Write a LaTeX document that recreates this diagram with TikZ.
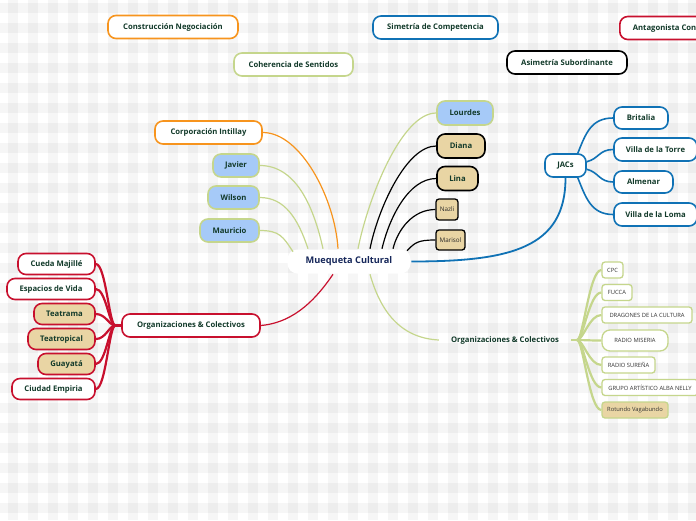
\documentclass[tikz,border=0pt]{standalone}
\usepackage{fontspec}
\setmainfont{Open Sans}
\usetikzlibrary{calc}

\definecolor{corange}{RGB}{247,148,29}
\definecolor{cgreen}{RGB}{197,214,140}
\definecolor{cblue}{RGB}{16,114,181}
\definecolor{cred}{RGB}{200,16,46}
\definecolor{fblue}{RGB}{166,202,248}
\definecolor{ftan}{RGB}{233,213,164}
\definecolor{txt}{RGB}{18,58,42}
\definecolor{navy}{RGB}{22,39,90}

\tikzset{
    topic/.style={draw, rounded corners=8pt, line width=1.6pt, fill=white, text=txt,
        font=\bfseries\fontsize{7.7}{9}\selectfont, minimum height=23pt, inner sep=0pt},
    person/.style={topic, draw=cgreen, fill=fblue},
    member/.style={topic, draw=black, fill=ftan},
    smallbox/.style={draw=black, line width=1.3pt, rounded corners=3pt, fill=ftan, text=black!85,
        font=\fontsize{6.3}{7}\selectfont, minimum height=21pt, inner sep=0pt},
    orgbox/.style={draw=cgreen, line width=1.3pt, rounded corners=3pt, fill=white, text=black!80,
        font=\fontsize{5.8}{7}\selectfont, minimum height=16pt, inner sep=0pt},
    wire/.style={line width=1.2pt},
    fan/.style={line width=2.2pt},
}

\begin{document}
\begin{tikzpicture}[x=1pt, y=-1pt]
        \useasboundingbox (0,0) rectangle (696,520);
        \clip (0,0) rectangle (696,520);
        \fill[white] (0,0) rectangle (696,520);
        \foreach \i in {0,...,34}
            \fill[black, opacity=.035] ({8+20*\i},0) rectangle ++(10,520);
        \foreach \j in {0,...,25}
            \fill[black, opacity=.035] (0,{3+20*\j}) rectangle ++(696,10);

        \node (cn) [topic, draw=corange, minimum width=130pt] at (173,27) {Construcción Negociación};
        \node (cs) [topic, draw=cgreen, minimum width=119pt] at (293.5,64.5) {Coherencia de Sentidos};
        \node (sc) [topic, draw=cblue, minimum width=125pt] at (435.5,27.5) {Simetría de Competencia};
        \node (as) [topic, draw=black, minimum width=120pt] at (567,62.5) {Asimetría Subordinante};
        \node (ac) [topic, draw=cred, anchor=west, inner xsep=13pt] at (619,28) {Antagonista Confrontación};

        \node (mc) [topic, draw=none, text=navy, rounded corners=10pt, minimum width=123pt, minimum height=24pt,
            font=\bfseries\fontsize{9.2}{10}\selectfont] at (349,261.5) {Muequeta Cultural};

        \node (ci) [topic, draw=corange, minimum width=107pt] at (208.5,132.5) {Corporación Intillay};
        \node (jv) [person, minimum width=46pt] at (236,165.5) {Javier};
        \node (wi) [person, minimum width=51pt] at (233.5,197.5) {Wilson};
        \node (mu) [person, minimum width=59pt] at (229.5,230.5) {Mauricio};

        \node (ol) [topic, draw=cred, minimum width=138pt] at (191,325.5) {Organizaciones \& Colectivos};
        \node (cu) [topic, draw=cred, minimum width=77pt, minimum height=21pt] at (56.5,264) {Cueda Majillé};
        \node (ev) [topic, draw=cred, minimum width=88pt, minimum height=21pt] at (51,289) {Espacios de Vida};
        \node (tr) [topic, draw=cred, fill=ftan, minimum width=61pt, minimum height=21pt] at (64.5,314) {Teatrama};
        \node (tp) [topic, draw=cred, fill=ftan, minimum width=67pt, minimum height=21pt] at (61.5,339) {Teatropical};
        \node (gu) [topic, draw=cred, fill=ftan, minimum width=57pt, minimum height=21pt] at (66.5,364) {Guayatá};
        \node (ce) [topic, draw=cred, minimum width=83pt, minimum height=21pt] at (53.5,389) {Ciudad Empiria};

        \node (lo) [person, minimum width=56pt, minimum height=24pt] at (465,113) {Lourdes};
        \node (di) [member, minimum width=48pt, minimum height=24pt] at (461,146) {Diana};
        \node (li) [member, minimum width=41pt, minimum height=24pt] at (457.5,178.5) {Lina};
        \node (na) [smallbox, minimum width=22pt] at (447,209.5) {Nazli};
        \node (mr) [smallbox, minimum width=29pt, minimum height=20pt] at (450.5,240) {Marisol};

        \node (jc) [topic, draw=cblue, minimum width=41pt] at (565.5,165.5) {JACs};
        \node (br) [topic, draw=cblue, minimum width=54pt, minimum height=22pt] at (641,118) {Britalia};
        \node (vt) [topic, draw=cblue, minimum width=83pt] at (655.5,149.5) {Villa de la Torre};
        \node (al) [topic, draw=cblue, minimum width=59pt, minimum height=22pt] at (643.5,182) {Almenar};
        \node (vl) [topic, draw=cblue, minimum width=83pt] at (655.5,214.5) {Villa de la Loma};

        \node (or) [text=txt, font=\bfseries\fontsize{7.7}{9}\selectfont, inner xsep=12pt, inner ysep=0pt]
            at (505,340) {Organizaciones \& Colectivos};
        \node (cp) [orgbox, minimum width=21pt] at (612.5,270) {CPC};
        \node (fu) [orgbox, minimum width=30pt] at (617,292.5) {FUCCA};
        \node (dr) [orgbox, minimum width=90pt] at (647,315) {DRAGONES DE LA CULTURA};
        \node (rm) [orgbox, rounded corners=8pt, minimum width=66pt, minimum height=21pt] at (635,340.5) {RADIO MISERIA};
        \node (rs) [orgbox, minimum width=53pt] at (628.5,365) {RADIO SUREÑA};
        \node (ga) [orgbox, minimum width=96pt] at (650,387.5) {GRUPO ARTÍSTICO ALBA NELLY};
        \node (rv) [orgbox, fill=ftan, minimum width=66pt] at (635,410) {Rotundo Vagabundo};

        \draw[wire, corange] (ci.east) .. controls +(38,0) and +(-3,-50) .. ($(mc.north)+(-11,0)$);
        \draw[wire, cgreen] (jv.east) .. controls +(35,0) and +(-10,-45) .. ($(mc.north)+(-26,0)$);
        \draw[wire, cgreen] (wi.east) .. controls +(25,0) and +(-10,-30) .. ($(mc.north)+(-41,0)$);
        \draw[wire, cgreen] (mu.east) .. controls +(20,0) and +(-10,-15) .. ($(mc.north)+(-56,3)$);

        \draw[wire, cgreen] (lo.west) .. controls +(-35,0) and +(10,-50) .. ($(mc.north)+(9,0)$);
        \draw[wire, black] (di.west) .. controls +(-30,0) and +(8,-40) .. ($(mc.north)+(21,0)$);
        \draw[wire, black] (li.west) .. controls +(-28,0) and +(7,-30) .. ($(mc.north)+(33,0)$);
        \draw[wire, black] (na.west) .. controls +(-22,0) and +(5,-20) .. ($(mc.north)+(44,0)$);
        \draw[wire, black] (mr.west) .. controls +(-18,0) and +(8,-8) .. ($(mc.north)+(58,2)$);

        \draw[line width=1.8pt, cblue] (mc.east) .. controls +(100,0) and +(0,70) .. (jc.south);
        \draw[line width=1.6pt, cblue] (jc.45) .. controls +(8,-20) and +(-22,0) .. (br.west);
        \draw[line width=1.6pt, cblue] (jc.10) .. controls +(12,-3) and +(-14,0) .. (vt.west);
        \draw[line width=1.6pt, cblue] (jc.-10) .. controls +(12,3) and +(-14,0) .. (al.west);
        \draw[line width=1.6pt, cblue] (jc.-45) .. controls +(8,20) and +(-22,0) .. (vl.west);

        \draw[wire, cred] (ol.east) .. controls +(35,-3) and +(-15,22) .. ($(mc.south)+(-16,0)$);
        \coordinate (lj) at ($(ol.west)+(-6,0)$);
        \draw[fan, cred] (ol.west) -- (lj);
        \foreach \k in {cu,ev,tr,tp,gu,ce}
            \draw[fan, cred] (lj) .. controls +(-6,0) and +(10,0) .. (\k.east);

        \draw[wire, cgreen] ($(mc.south)+(21,0)$) .. controls +(10,35) and +(-40,-2) .. (or.west);
        \coordinate (rj) at ($(or.east)+(6,0)$);
        \draw[fan, cgreen] (or.east) -- (rj);
        \foreach \k in {cp,fu,dr,rm,rs,ga,rv}
            \draw[fan, cgreen] (rj) .. controls +(6,0) and +(-12,0) .. (\k.west);
\end{tikzpicture}
\end{document}
